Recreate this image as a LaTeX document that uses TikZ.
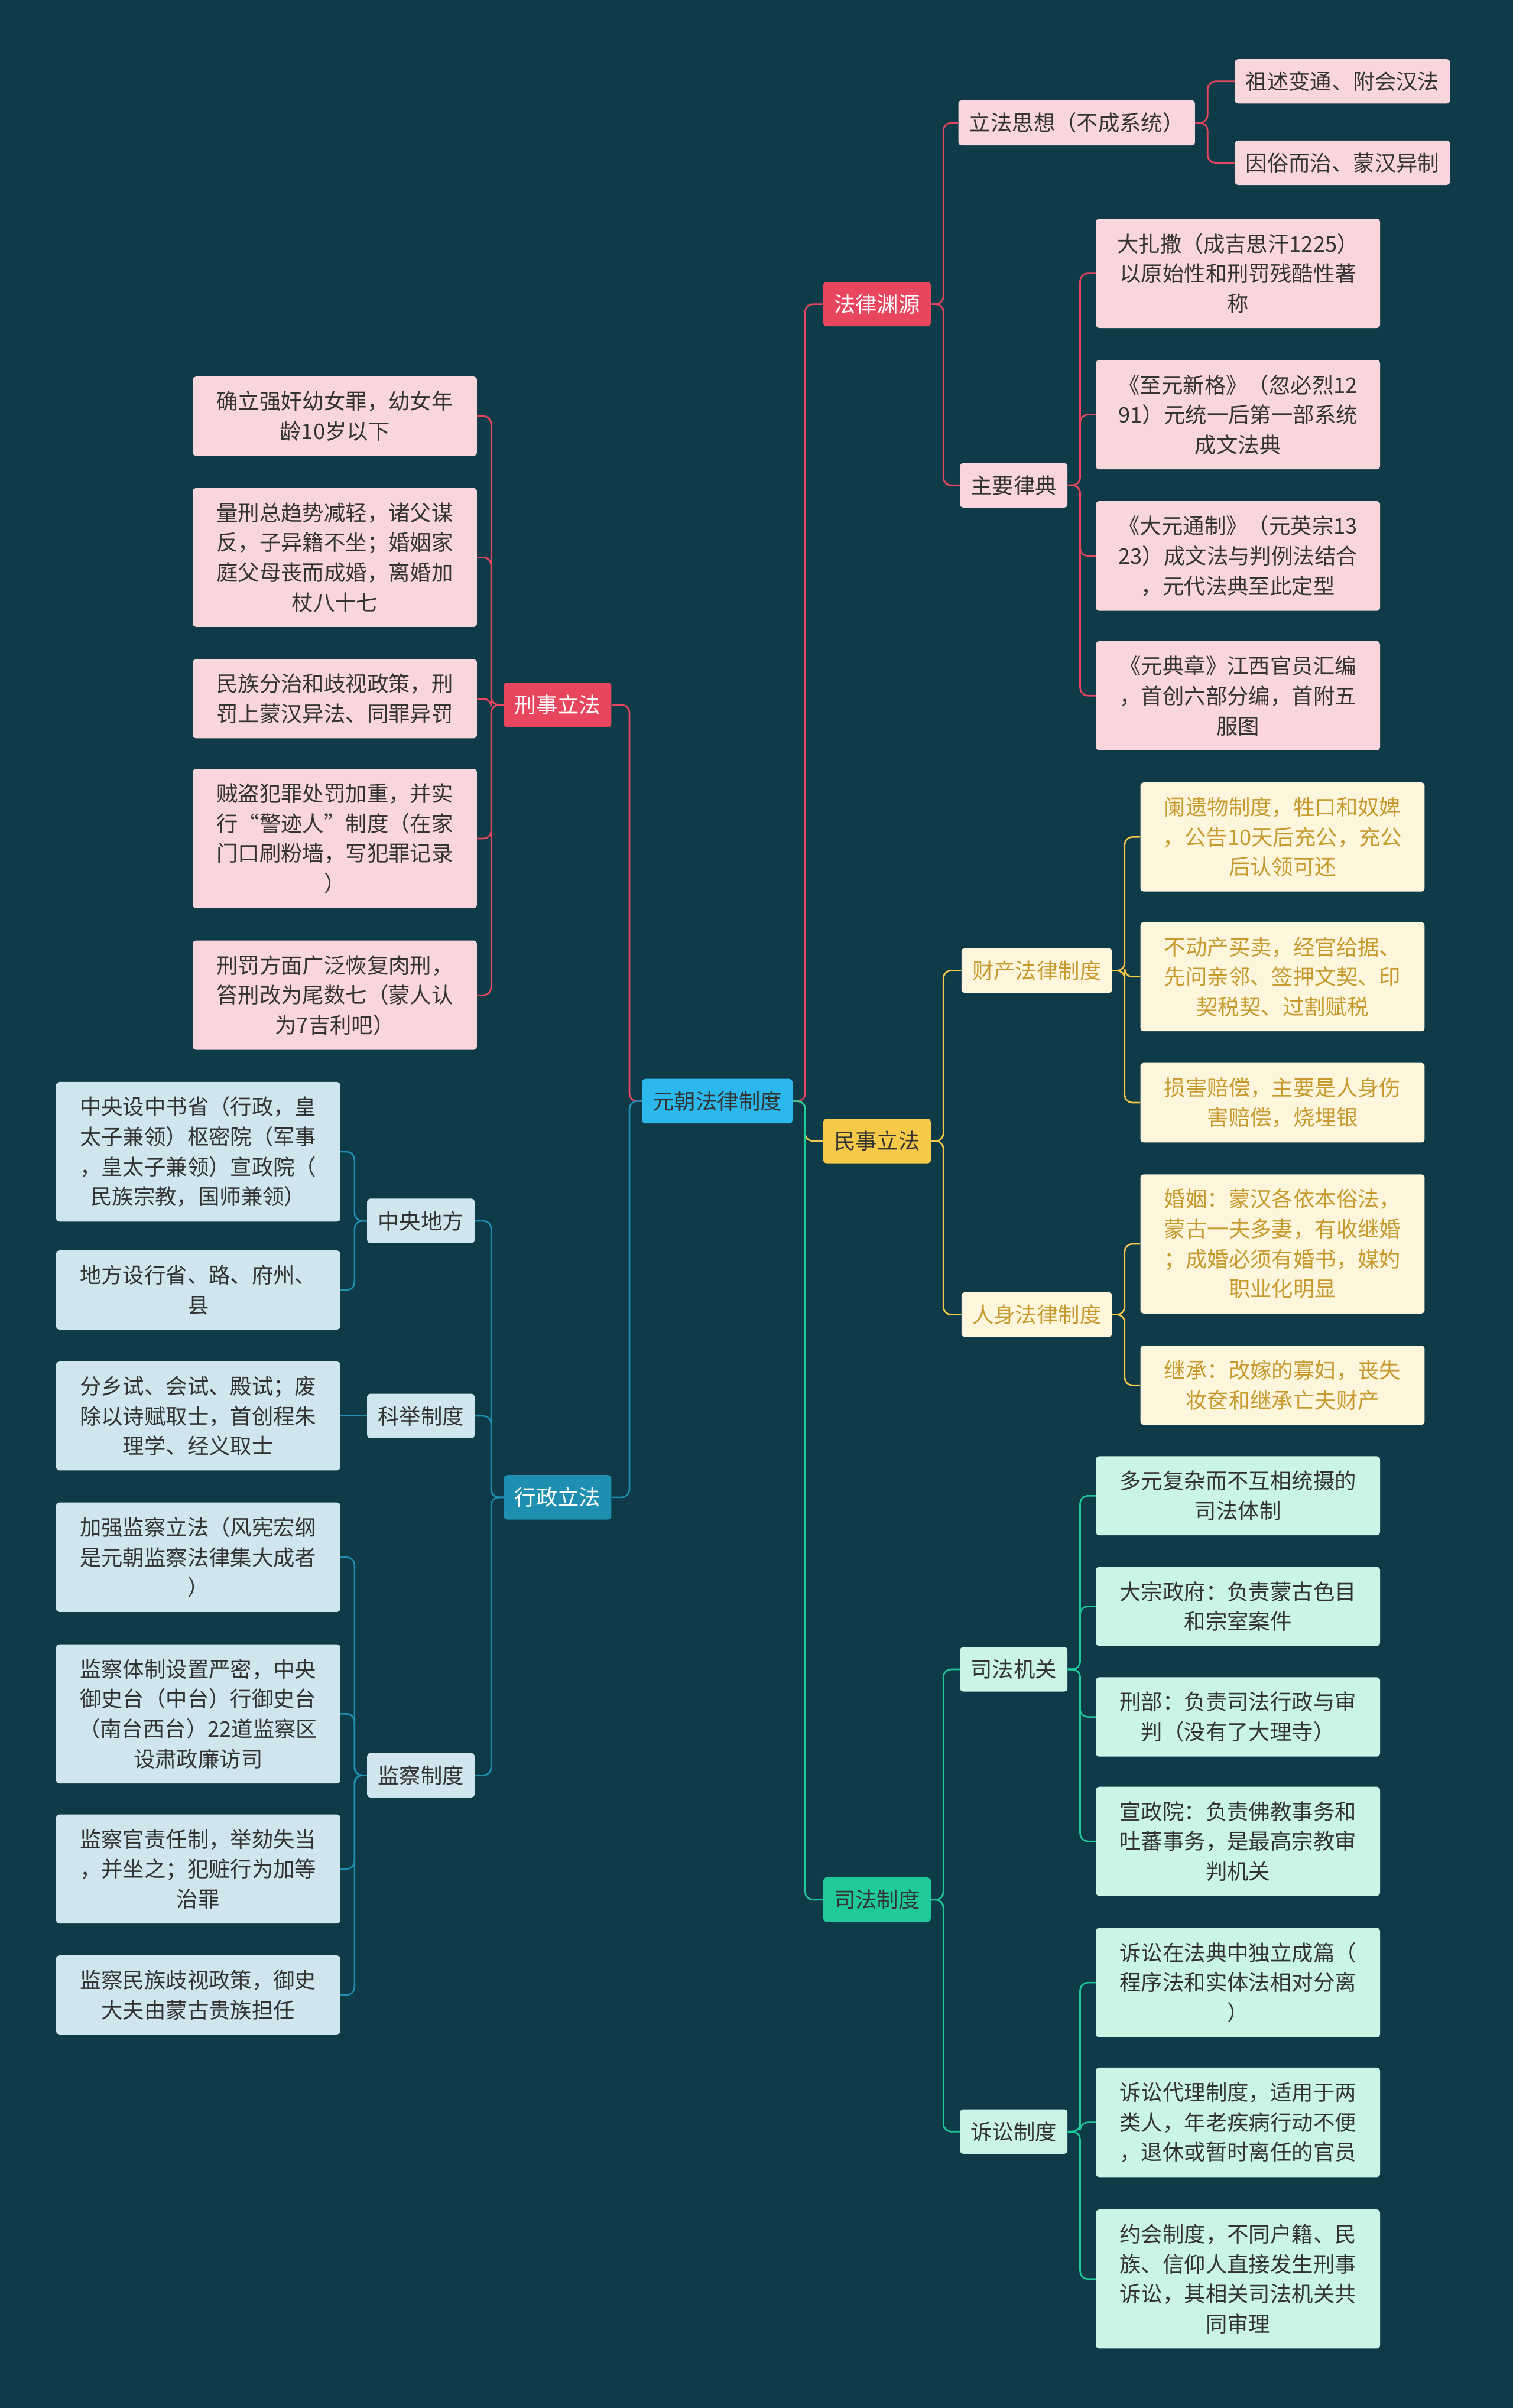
\documentclass[tikz,border=0pt]{standalone}
\usepackage{fontspec}
\setmainfont{Noto Sans CJK SC}
\begin{document}
\begin{tikzpicture}[x=1pt,y=-1pt,
  base/.style={font=\fontsize{14}{19.5}\selectfont, rounded corners=2pt, inner ysep=8pt, inner xsep=7pt, align=center},
  leaf/.style={base, inner ysep=9.5pt, text width=171pt, minimum width=185pt},
  pk/.style={fill=pinkf, text=txt},
  yl/.style={fill=yelf, text=yeltxt},
  gr/.style={fill=grnf, text=txt},
  bl/.style={fill=bluf, text=txt},
  con/.style={line width=1pt, rounded corners=5pt}]
\definecolor{bg}{HTML}{0F3A48}
\definecolor{pinkf}{HTML}{F9D6DC}
\definecolor{yelf}{HTML}{FDF5DC}
\definecolor{yeltxt}{HTML}{C79A2E}
\definecolor{grnf}{HTML}{C9F4E6}
\definecolor{bluf}{HTML}{CFE6EE}
\definecolor{txt}{HTML}{333333}
\definecolor{red}{HTML}{E8465F}
\definecolor{yel}{HTML}{F7C948}
\definecolor{grn}{HTML}{1FC99A}
\definecolor{blu}{HTML}{1E8FB0}
\definecolor{cyan}{HTML}{2BB8EC}
\fill[bg] (0,0) rectangle (985,1568);
\useasboundingbox (0,0) rectangle (985,1568);
% root and branches
\node[base, fill=cyan, text=txt] (root) at (467,717) {元朝法律制度};
\node[base, fill=red, text=white] (yy) at (571,198) {法律渊源};
\node[base, fill=yel, text=txt] (ms) at (571,743) {民事立法};
\node[base, fill=grn, text=txt] (sf) at (571,1237) {司法制度};
\node[base, fill=red, text=white] (xs) at (363,459) {刑事立法};
\node[base, fill=blu, text=white] (xz) at (363,975) {行政立法};
\foreach \c/\col in {yy/red, ms/yel, sf/grn} \draw[con, \col] (root.east) -- ++(8,0) |- (\c.west);
\foreach \c/\col in {xs/red, xz/blu} \draw[con, \col] (root.west) -- ++(-8,0) |- (\c.east);
% 法律渊源
\node[base, pk] (sx) at (701,80) {立法思想（不成系统）};
\node[base, pk] (lv) at (660,316) {主要律典};
\node[base, pk] (sx1) at (874,53) {祖述变通、附会汉法};
\node[base, pk] (sx2) at (874,106) {因俗而治、蒙汉异制};
\node[leaf, pk] (l1) at (806,178) {大扎撒（成吉思汗1225）\\以原始性和刑罚残酷性著\\称};
\node[leaf, pk] (l2) at (806,270) {《至元新格》（忽必烈12\\91）元统一后第一部系统\\成文法典};
\node[leaf, pk] (l3) at (806,362) {《大元通制》（元英宗13\\23）成文法与判例法结合\\，元代法典至此定型};
\node[leaf, pk] (l4) at (806,453) {《元典章》江西官员汇编\\，首创六部分编，首附五\\服图};
\foreach \c in {sx,lv} \draw[con, red] (yy.east) -- ++(8,0) |- (\c.west);
\foreach \c in {sx1,sx2} \draw[con, red] (sx.east) -- ++(8,0) |- (\c.west);
\foreach \c in {l1,l2,l3,l4} \draw[con, red] (lv.east) -- ++(8,0) |- (\c.west);
% 民事立法
\node[base, yl] (cc) at (675,632) {财产法律制度};
\node[base, yl] (rs) at (675,856) {人身法律制度};
\node[leaf, yl] (y1) at (835,545) {阑遗物制度，牲口和奴婢\\，公告10天后充公，充公\\后认领可还};
\node[leaf, yl] (y2) at (835,636) {不动产买卖，经官给据、\\先问亲邻、签押文契、印\\契税契、过割赋税};
\node[leaf, yl] (y3) at (835,718) {损害赔偿，主要是人身伤\\害赔偿，烧埋银};
\node[leaf, yl] (y4) at (835,810) {婚姻：蒙汉各依本俗法，\\蒙古一夫多妻，有收继婚\\；成婚必须有婚书，媒妁\\职业化明显};
\node[leaf, yl] (y5) at (835,902) {继承：改嫁的寡妇，丧失\\妆奁和继承亡夫财产};
\foreach \c in {cc,rs} \draw[con, yel] (ms.east) -- ++(8,0) |- (\c.west);
\foreach \c in {y1,y2,y3} \draw[con, yel] (cc.east) -- ++(8,0) |- (\c.west);
\foreach \c in {y4,y5} \draw[con, yel] (rs.east) -- ++(8,0) |- (\c.west);
% 司法制度
\node[base, gr] (jg) at (660,1087) {司法机关};
\node[base, gr] (ss) at (660,1388) {诉讼制度};
\node[leaf, gr] (g1) at (806,974) {多元复杂而不互相统摄的\\司法体制};
\node[leaf, gr] (g2) at (806,1046) {大宗政府：负责蒙古色目\\和宗室案件};
\node[leaf, gr] (g3) at (806,1118) {刑部：负责司法行政与审\\判（没有了大理寺）};
\node[leaf, gr] (g4) at (806,1199) {宣政院：负责佛教事务和\\吐蕃事务，是最高宗教审\\判机关};
\node[leaf, gr] (g5) at (806,1291) {诉讼在法典中独立成篇（\\程序法和实体法相对分离\\）};
\node[leaf, gr] (g6) at (806,1382) {诉讼代理制度，适用于两\\类人，年老疾病行动不便\\，退休或暂时离任的官员};
\node[leaf, gr] (g7) at (806,1484) {约会制度，不同户籍、民\\族、信仰人直接发生刑事\\诉讼，其相关司法机关共\\同审理};
\foreach \c in {jg,ss} \draw[con, grn] (sf.east) -- ++(8,0) |- (\c.west);
\foreach \c in {g1,g2,g3,g4} \draw[con, grn] (jg.east) -- ++(8,0) |- (\c.west);
\foreach \c in {g5,g6,g7} \draw[con, grn] (ss.east) -- ++(8,0) |- (\c.west);
% 刑事立法
\node[leaf, pk] (r1) at (218,271) {确立强奸幼女罪，幼女年\\龄10岁以下};
\node[leaf, pk] (r2) at (218,363) {量刑总趋势减轻，诸父谋\\反，子异籍不坐；婚姻家\\庭父母丧而成婚，离婚加\\杖八十七};
\node[leaf, pk] (r3) at (218,455) {民族分治和歧视政策，刑\\罚上蒙汉异法、同罪异罚};
\node[leaf, pk] (r4) at (218,546) {贼盗犯罪处罚加重，并实\\行“警迹人”制度（在家\\门口刷粉墙，写犯罪记录\\）};
\node[leaf, pk] (r5) at (218,648) {刑罚方面广泛恢复肉刑，\\笞刑改为尾数七（蒙人认\\为7吉利吧）};
\foreach \c in {r1,r2,r3,r4,r5} \draw[con, red] (xs.west) -- ++(-8,0) |- (\c.east);
% 行政立法
\node[base, bl] (zy) at (274,795) {中央地方};
\node[base, bl] (kj) at (274,922) {科举制度};
\node[base, bl] (jc) at (274,1156) {监察制度};
\node[leaf, bl] (b1) at (129,750) {中央设中书省（行政，皇\\太子兼领）枢密院（军事\\，皇太子兼领）宣政院（\\民族宗教，国师兼领）};
\node[leaf, bl] (b2) at (129,840) {地方设行省、路、府州、\\县};
\node[leaf, bl] (b3) at (129,922) {分乡试、会试、殿试；废\\除以诗赋取士，首创程朱\\理学、经义取士};
\node[leaf, bl] (b4) at (129,1014) {加强监察立法（风宪宏纲\\是元朝监察法律集大成者\\）};
\node[leaf, bl] (b5) at (129,1116) {监察体制设置严密，中央\\御史台（中台）行御史台\\（南台西台）22道监察区\\设肃政廉访司};
\node[leaf, bl] (b6) at (129,1217) {监察官责任制，举劾失当\\，并坐之；犯赃行为加等\\治罪};
\node[leaf, bl] (b7) at (129,1299) {监察民族歧视政策，御史\\大夫由蒙古贵族担任};
\foreach \c in {zy,kj,jc} \draw[con, blu] (xz.west) -- ++(-8,0) |- (\c.east);
\foreach \c in {b1,b2} \draw[con, blu] (zy.west) -- ++(-8,0) |- (\c.east);
\draw[con, blu] (kj.west) -- (b3.east);
\foreach \c in {b4,b5,b6,b7} \draw[con, blu] (jc.west) -- ++(-8,0) |- (\c.east);
\end{tikzpicture}
\end{document}
